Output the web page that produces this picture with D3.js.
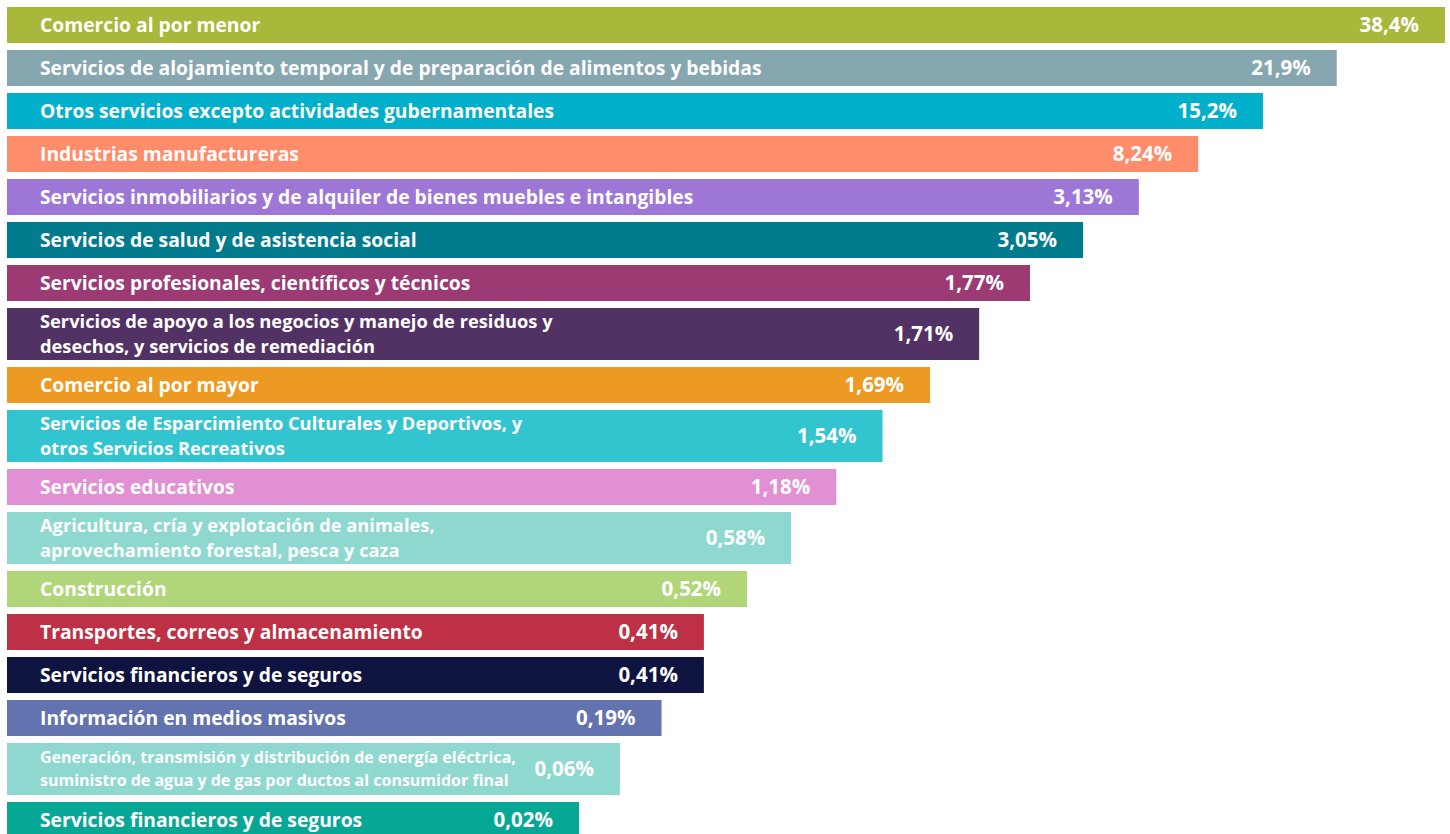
<!DOCTYPE html>
<html>
<head>
<meta charset="utf-8">
<script src="https://cdn.jsdelivr.net/npm/d3@7"></script>
<style>
  html, body { margin: 0; padding: 0; background: #ffffff; }
  svg { display: block; }
  text { font-family: "Open Sans", Lato, sans-serif; font-weight: 700; fill: #ffffff; }
</style>
</head>
<body>
<svg id="chart" width="1450" height="834"></svg>
<script>
// ---- data ----
const categories = [
  ["Comercio al por menor"],
  ["Servicios de alojamiento temporal y de preparación de alimentos y bebidas"],
  ["Otros servicios excepto actividades gubernamentales"],
  ["Industrias manufactureras"],
  ["Servicios inmobiliarios y de alquiler de bienes muebles e intangibles"],
  ["Servicios de salud y de asistencia social"],
  ["Servicios profesionales, científicos y técnicos"],
  ["Servicios de apoyo a los negocios y manejo de residuos y", "desechos, y servicios de remediación"],
  ["Comercio al por mayor"],
  ["Servicios de Esparcimiento Culturales y Deportivos, y", "otros Servicios Recreativos"],
  ["Servicios educativos"],
  ["Agricultura, cría y explotación de animales,", "aprovechamiento forestal, pesca y caza"],
  ["Construcción"],
  ["Transportes, correos y almacenamiento"],
  ["Servicios financieros y de seguros"],
  ["Información en medios masivos"],
  ["Generación, transmisión y distribución de energía eléctrica,", "suministro de agua y de gas por ductos al consumidor final"],
  ["Servicios financieros y de seguros"]
];
const values = [38.4, 21.9, 15.2, 8.24, 3.13, 3.05, 1.77, 1.71, 1.69, 1.54, 1.18, 0.58, 0.52, 0.41, 0.41, 0.19, 0.06, 0.02];
const colors = ["#a9b73a", "#86a7b0", "#00b0cb", "#ff8c6b", "#9e76d6", "#007b8e", "#9c3a74", "#523164",
                "#ec9a24", "#33c5cf", "#e190d3", "#8ed8d0", "#b1d67a", "#be3045", "#0f1340", "#6373b0",
                "#8ed8d0", "#06a895"];

// ---- layout ----
const W = 1450, H = 834;
const x0 = 7;
const singleH = 36, doubleH = 52, gap = 7, topY = 7;

const rows = categories.map((lines, i) => ({ lines, value: values[i], color: colors[i] }));
let yCursor = topY;
rows.forEach(r => {
  r.h = r.lines.length > 1 ? doubleH : singleH;
  r.y = yCursor;
  yCursor += r.h + gap;
});

// The infographic's bar lengths follow the rank of each value (not linear in the value):
// rank among distinct values -> bar end, through a power scale.
const distinct = Array.from(new Set(values)).sort(d3.descending);
const rank = v => distinct.indexOf(v);
const x = d3.scalePow().exponent(0.75).domain([0, distinct.length - 1]).range([1445, 579]);

const loc = d3.formatLocale({ decimal: ",", thousands: ".", grouping: [3], currency: ["", ""] });
const fmt = v => loc.format(".3~r")(v) + "%";

const svg = d3.select("#chart");

const g = svg.selectAll("g.row").data(rows).join("g").attr("class", "row");

g.append("rect")
  .attr("x", x0)
  .attr("y", d => d.y)
  .attr("width", d => x(rank(d.value)) - x0)
  .attr("height", d => d.h)
  .attr("fill", d => d.color);

g.each(function(d) {
  const sel = d3.select(this);
  const cy = d.y + d.h / 2;
  const n = d.lines.length;
  const small = n > 1 && d.lines.some(l => l.length > 56);
  const fs = small ? 16 : (n > 1 ? 18.3 : 19.3);
  const lh = small ? 23 : 25;
  const label = sel.append("text")
    .attr("x", 40)
    .attr("y", cy - (n - 1) / 2 * lh + fs * 0.36)
    .style("font-size", fs + "px");
  d.lines.forEach((line, k) => {
    label.append("tspan")
      .attr("x", 40)
      .attr("dy", k === 0 ? 0 : lh)
      .text(line);
  });
  sel.append("text")
    .attr("x", x(rank(d.value)) - 26)
    .attr("y", cy + 7.3)
    .attr("text-anchor", "end")
    .style("font-size", "20.5px")
    .text(fmt(d.value));
});
</script>
</body>
</html>
